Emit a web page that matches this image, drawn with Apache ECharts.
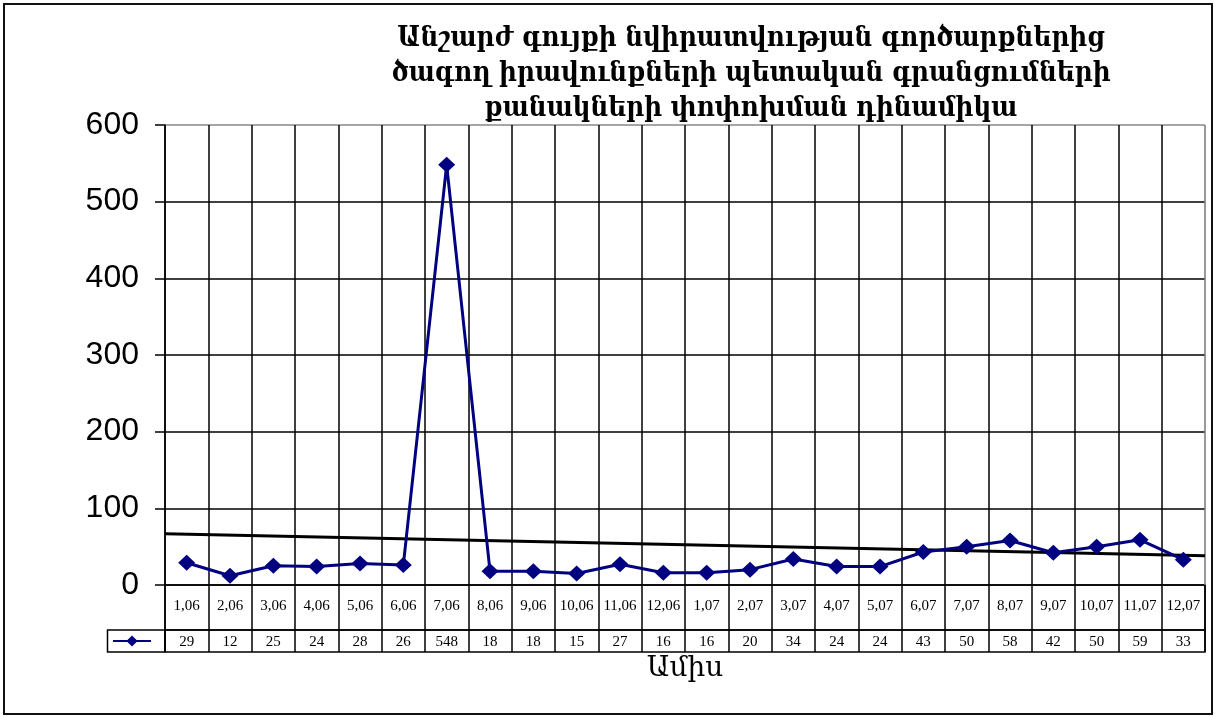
<!DOCTYPE html>
<html>
<head>
<meta charset="utf-8">
<script src="https://cdn.jsdelivr.net/npm/echarts@6/dist/echarts.min.js"></script>
<style>html,body{margin:0;padding:0;background:#fff}#c{width:1216px;height:717px}</style>
</head>
<body>
<div id="c"></div>
<script>
const titleLines = ['Անշարժ գույքի նվիրատվության գործարքներից', 'ծագող իրավունքների պետական գրանցումների', 'քանակների փոփոխման դինամիկա'];
const months = ['1,06','2,06','3,06','4,06','5,06','6,06','7,06','8,06','9,06','10,06','11,06','12,06','1,07','2,07','3,07','4,07','5,07','6,07','7,07','8,07','9,07','10,07','11,07','12,07'];
const counts = [29,12,25,24,28,26,548,18,18,15,27,16,16,20,34,24,24,43,50,58,42,50,59,33];
const trendEnds = [67, 38];
const yTicks = [0, 100, 200, 300, 400, 500, 600];
const axisName = 'Ամիս';
const seriesName = 'Count';

const chart = echarts.init(document.getElementById('c'), null, {renderer: 'canvas'});
const gridL = 165, gridR = 11;
const splitColsX = months.map(() => '#000').concat(['#777']);
const splitColsY = yTicks.map((v, i) => i === yTicks.length - 1 ? '#888' : '#000');

chart.setOption({
  backgroundColor: '#fff',
  animation: false,
  grid: [
    {left: gridL, right: gridR, top: 125, bottom: 717 - 585},
    {left: gridL, right: gridR, top: 585, height: 45, show: true, borderColor: '#000', borderWidth: 1.5, backgroundColor: 'transparent'},
    {left: gridL, right: gridR, top: 630, height: 22, show: true, borderColor: '#000', borderWidth: 1.5, backgroundColor: 'transparent'}
  ],
  xAxis: [
    {type: 'category', gridIndex: 0, data: months, boundaryGap: true,
     axisLine: {show: false}, axisTick: {show: false}, axisLabel: {show: false},
     splitLine: {show: true, lineStyle: {color: splitColsX, width: 1.5}}},
    {type: 'category', gridIndex: 1, data: months, boundaryGap: true, position: 'top',
     axisLine: {show: false}, axisTick: {show: false},
     axisLabel: {inside: true, margin: 14, fontFamily: '"Liberation Serif", serif', fontSize: 15, color: '#000', interval: 0},
     splitLine: {show: true, lineStyle: {color: '#000', width: 1.5}}},
    {type: 'category', gridIndex: 2, data: counts.map(String), boundaryGap: true, position: 'bottom',
     axisLine: {show: false}, axisTick: {show: false},
     axisLabel: {inside: true, margin: 2, fontFamily: '"Liberation Serif", serif', fontSize: 15, color: '#000', interval: 0},
     splitLine: {show: true, lineStyle: {color: '#000', width: 1.5}},
     name: axisName, nameLocation: 'middle', nameGap: 3,
     nameTextStyle: {fontFamily: '"DejaVu Serif", serif', fontSize: 28, color: '#000', verticalAlign: 'top'}},
    {type: 'value', gridIndex: 0, min: 0.5, max: months.length + 0.5, show: false}
  ],
  yAxis: [
    {type: 'value', gridIndex: 0, min: yTicks[0], max: yTicks[yTicks.length - 1], interval: 100,
     axisLine: {show: true, lineStyle: {color: '#000', width: 1.5}},
     axisTick: {show: true, inside: false, length: 10, lineStyle: {color: '#000', width: 1.5}},
     axisLabel: {margin: 26, fontFamily: '"Liberation Sans", Arial, sans-serif', fontSize: 32, color: '#000'},
     splitLine: {show: true, lineStyle: {color: splitColsY, width: 1.5}}},
    {type: 'value', gridIndex: 1, show: false},
    {type: 'value', gridIndex: 2, show: false}
  ],
  legend: {
    data: [seriesName], left: 112, top: 634, itemWidth: 38, itemHeight: 14, itemGap: 0,
    formatter: () => '', textStyle: {fontSize: 1}, padding: 0
  },
  graphic: [
    {type: 'rect', shape: {x: 4, y: 4, width: 1208, height: 710}, style: {fill: 'none', stroke: '#111', lineWidth: 2}, silent: true},
    {type: 'rect', shape: {x: 107.5, y: 630, width: 57.5, height: 22}, style: {fill: 'none', stroke: '#000', lineWidth: 1.5}, silent: true},
    {type: 'text', x: 751, y: 21, silent: true,
     style: {text: titleLines.join('\n'), textAlign: 'center', fill: '#000',
             font: 'bold 27.5px "DejaVu Serif Condensed", "DejaVu Serif", serif', lineHeight: 35}}
  ],
  series: [
    {name: seriesName, type: 'line', xAxisIndex: 0, yAxisIndex: 0, data: counts,
     lineStyle: {color: '#000080', width: 3}, itemStyle: {color: '#000080'},
     symbol: 'diamond', symbolSize: [17, 16], showSymbol: true, z: 5},
    {name: 'trend', type: 'line', xAxisIndex: 3, yAxisIndex: 0,
     data: [[0.5, trendEnds[0]], [months.length + 0.5, trendEnds[1]]],
     lineStyle: {color: '#000', width: 3}, symbol: 'none', z: 4}
  ]
});
</script>
</body>
</html>
